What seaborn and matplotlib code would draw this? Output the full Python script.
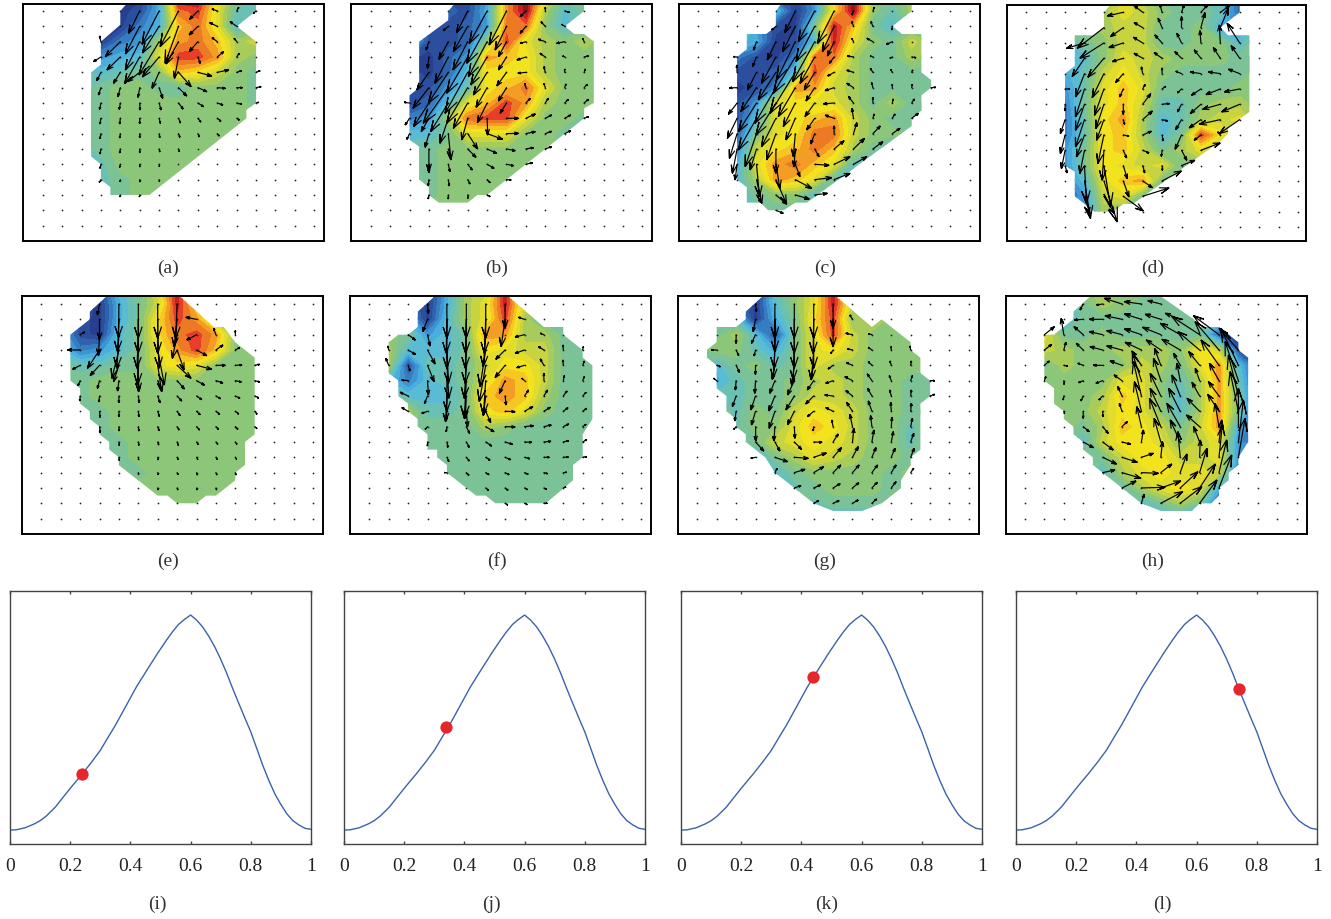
import numpy as np
import seaborn as sns
import matplotlib
matplotlib.use("Agg")
import matplotlib.pyplot as plt
from matplotlib.patches import Polygon

sns.set_theme(style="white")
plt.rcParams['font.family'] = ['Liberation Serif', 'DejaVu Sans']

# colour bands of the field, one for each integer from -9 to 10
band_colors = ["#263f8e", "#2b4f9f", "#2f63ae", "#367cc0", "#3f96d2", "#4aaedc", "#5bbdd4", "#6bc0b4",
               "#7cc296", "#8cc67a", "#a8cc5a", "#c6d440", "#e2dc2c", "#f3e31e", "#f6c622", "#f39f24",
               "#ee7a25", "#e8402a", "#c9201f", "#8e1a1e"]

# field values, rows -1 to 14 of the dot grid (short rows are green to the right)
a_field = [
    [0,0,0,0,-8,-9,-4,10,10,4,0,-1],
    [0,0,0,-8,-9,-8,-4,7,8,3,-2,-2],
    [0,0,0,-9,-9,-6,-4,5,7,3,-3,-1],
    [0,0,-6,-9,-6,-5,1,6,7,5,1,2],
    [0,0,-4,-5,-4,-3,3,8,8,6,1,0],
    [0,0,-2,-3,-2,-1,0,5,4,2,0,-1],
    [0,0,-2,-1,0,0,-1,-2,0,0,0,-1],
    [0,0,-2,-1,0,0,0,0,0,0,0,-1],
    [0,0,-2,-1],
    [0,0,-2,-1],
    [0,0,-2,-1],
    [0,0,-2,-2,0],
    [0,0,0,-2,-1],
    [0,0,0,-2,-1],
    [],
    [],
]
b_field = [
    [0,0,0,0,-8,-8,-5,6,10,4,-1,-1],
    [0,0,0,-8,-7,-8,-4,6,10,1,-3,-1],
    [0,0,0,-8,-8,-7,-5,7,7,0,-3,-1],
    [0,0,-3,-8,-8,-7,0,8,3,1,0,1],
    [0,0,-8,-9,-7,-5,6,5,4,1,0,0,0],
    [0,0,-8,-9,-7,-3,4,4,4,1,0,0],
    [0,0,-8,-8,-5,-2,4,5,7,3,0,0],
    [0,-6,-8,-7,-3,3,5,8,6,1,0,0],
    [0,-5,-6,-5,1,7,8,8,3,0,0,-1],
    [0,-4,-3,-3,-1,3,3,3,0,0,-1,-1],
    [0,0,-2,-1,0,0,0,0,0,0,-1],
    [0,0,-2,-1],
    [0,0,-2,-1],
    [0,0,0,-1],
    [],
    [],
]
c_field = [
    [0,0,0,0,-7,-8,-5,4,10,1,-1,1],
    [0,0,0,-3,-3,-9,-5,4,10,0,-2,1],
    [0,0,0,-5,-8,-9,-1,9,5,-1,-3,-1],
    [0,0,-3,-4,-9,-8,-3,9,3,0,-1,2],
    [0,0,-6,-8,-9,-6,7,7,1,-1,-1,1],
    [0,0,-8,-8,-7,-3,8,3,1,-1,-1,-1,-1],
    [0,0,-9,-8,-6,6,6,2,1,-1,-1,-1,-1],
    [0,0,-8,-5,3,4,3,3,1,-1,1,-1],
    [0,0,-8,-3,3,4,5,6,2,0,-1,-1],
    [0,0,-7,-1,3,4,7,7,2,0,0,-1],
    [0,0,-6,2,4,5,7,5,1,-1,-3],
    [0,0,-4,3,6,7,5,3,-2,-3],
    [0,0,-3,1,6,5,3,-2,-4],
    [0,0,-3,-1,0,0,-3],
    [0,0,0,-2,-1,-1],
    [],
]
d_field = [
    [0,0,0,0,-1,3,1,-1,-1,-1,-2,-7],
    [0,0,0,-1,1,3,2,0,-1,-1,-2,-7],
    [0,0,0,0,1,2,2,-1,-1,0,-4,-5],
    [0,0,-3,-1,0,2,2,-1,-1,0,0,-3],
    [0,0,-4,-3,0,3,2,1,0,0,0,-1],
    [0,0,-4,-2,2,4,2,0,-1,-1,-1,-1],
    [0,0,-5,-2,3,5,3,-1,-1,-1,-1,0],
    [0,0,-6,-1,3,5,2,-2,-2,0,1,1],
    [0,0,-6,-2,4,6,1,-3,-2,1,2,3],
    [0,0,-6,-2,4,5,1,-3,-1,8,4],
    [0,0,-5,-1,4,5,2,-1,1,3,-1],
    [0,0,-5,-1,4,3,2,3,-1],
    [0,0,-6,-3,3,5,6,-1],
    [0,0,-7,-5,2,3,-1],
    [0,0,0,-5,1,0],
    [],
]
e_field = [
    [0,0,0,-8,-3,-1,3,9,0],
    [0,0,-7,-9,-4,-1,2,9,4,0],
    [0,0,-8,-9,-4,-1,4,8,6,1],
    [0,-4,-8,-9,-3,-1,4,7,8,6],
    [0,-3,-6,-5,-3,-1,3,6,8,5],
    [0,-1,-2,-2,-1,-1,3,4,3,0],
    [0,-1,-1],
    [0,0,-1],
    [0,0,-1,-1],
    [0,0,0,-1],
    [0,0,0,-1,-1],
    [0,0,0,0,-1],
    [0,0,0,0,0,-1],
    [],
    [],
    [],
]
f_field = [
    [0,0,-8,-9,-4,1,2,9,1],
    [0,0,-6,-9,-4,1,3,9,2],
    [0,0,-4,-9,-3,1,3,8,1,-1,-1],
    [0,0,-1,-5,-3,-1,6,6,1,1,-1,-1],
    [0,1,-3,-3,-3,-1,4,3,2,2,-1,-1,-1],
    [0,1,-8,-2,-2,-1,2,4,4,2,-1,-1,-1],
    [0,-3,-6,-3,-2,-1,3,6,5,2,-1,-1,-1],
    [0,0,-3,-3,-3,-1,5,6,5,1,-1,-1,-1],
    [0,0,1,-2,-2,-1,4,5,3,0,-1,-1,-1],
    [0,0,0,-1,-1,-1,1,0,-1,-1,-1,-1,-1],
    [0,0,0,-1,-1,-1,-1,-1,-1,-1,-1,-1,-1],
    [0,0,0,0,-1,-1,-1,-1,-1,-1,-1,-1],
    [0,0,0,0,-1,-1,-1,-1,-1,-1,-1,-1],
    [0,0,0,0,0,-1,-1,-1,-1,-1,-1],
    [0,0,0,0,0,0,-1,-1,-1,-1,-1],
    [],
]
g_field = [
    [0,0,0,-9,-2,0,3,9,0],
    [0,0,-6,-9,-3,0,3,9,2],
    [0,0,-3,-9,-4,-1,4,8,0,2],
    [0,-1,1,-3,-8,-1,3,8,2,0,0],
    [-1,0,0,-2,-4,-1,3,4,2,0,0,0],
    [0,-3,-1,0,-2,-1,3,1,1,0,0,0],
    [0,-4,-2,-1,-1,0,1,2,1,0,0,-1,-1],
    [0,-2,-2,-1,-1,0,2,2,1,0,0,-1,-1],
    [0,0,-2,0,-1,2,4,3,2,0,0,-1],
    [0,0,-2,0,0,3,5,4,2,0,0,-2],
    [0,0,0,-1,2,3,4,3,2,0,0,-2],
    [0,0,0,-3,-1,1,3,2,1,0,0,-1],
    [0,0,0,0,-3,-1,0,0,0,0,-1],
    [0,0,0,0,0,-2,-1,0,0,0,-1],
    [0,0,0,0,0,0,-2,-1,-1,-1],
    [0,0,0,0,0,0,0,-3,-3,-3],
]
h_field = [
    [0,0,0,0,1,0,0,-1,-1],
    [0,0,-3,-1,1,0,-1,-1,-1],
    [0,0,-4,-1,-1,-1,-1,-1,-1,-2,-2],
    [0,3,-1,-1,0,-1,-1,-1,-1,-1,-7,-8],
    [0,2,1,0,0,1,1,1,0,4,2,-8,-8],
    [0,-1,1,0,0,0,2,1,-1,3,6,-3,-8],
    [0,0,0,0,0,3,3,0,-2,1,6,-2,-8],
    [0,0,0,0,1,5,3,0,-3,1,6,-1,-8],
    [0,0,0,0,2,4,3,0,-3,1,6,-1,-8],
    [0,0,0,-1,1,5,4,2,-1,2,6,-4,-8],
    [0,0,0,-3,2,4,4,3,0,2,3,-5,-8],
    [0,0,0,0,-1,2,4,4,2,2,3,-5],
    [0,0,0,0,-3,1,3,4,3,3,2,-6],
    [0,0,0,0,0,-2,1,3,4,3,-4],
    [0,0,0,0,0,0,-3,-1,1,-1,-7],
    [0,0,0,0,0,0,0,-3,-4,-5],
]

# outlines of the measured region in grid columns and rows
a_outline = [(4.7,-1),(4,0),(4,.9),(3,2),(3,3.5),(2.5,4),(2.5,9.5),(3,10),(3,11),(3.5,11.5),(3.5,12),(5.5,12),
             (10.5,7),(10.5,6.45),(11,6),(11,2),(10,1),(11,0),(11,-1)]
b_outline = [(4.7,-1),(4,0),(4,.6),(2.5,2),(2.5,5),(2,5.5),(2,8.4),(2.5,8.85),(2.5,11),(3,11.5),(3,12),(3.5,12.5),
             (5,12.5),(5.5,12),(6,12),(11,7),(11,6.35),(11.5,6),(11.5,2),(11,1.5),(10.5,1.5),(10,1),(11,0),(11,-1)]
c_outline = [(4.6,-1),(4,0),(4,1),(3.5,1.5),(2.5,1.5),(2.5,2.5),(2,3),(2,11),(2.5,11.5),(2.5,12.5),(3.2,12.5),
             (3.6,13),(4.4,13),(5,12.5),(5.6,12.5),(11,7.5),(11,7),(11.5,6.5),(11.5,5.5),(12,5),(12,4.5),(11.5,4),
             (11.5,1.5),(10.5,1.5),(10,1),(11,0),(11,-1)]
d_outline = [(4.7,-1),(4,0),(4,1),(3.5,1.5),(2.5,1.5),(2.5,3.5),(2,4),(2,10),(2.5,10.4),(2.5,12),(3,12.5),(3.5,13),
             (4.5,13),(5,12.5),(5.5,12.5),(10,8.4),(10.4,7.9),(10.4,7.5),(11.5,6.5),(11.5,1.5),(10.4,1.5),(10,1),
             (11,0),(11,-1)]
e_outline = [(3.8,-1),(2.5,.5),(2.5,1),(1.5,2),(1.5,5),(2,5.5),(2,6.5),(2.5,7),(2.5,7.5),(3,8),(3,8.5),(3.5,9),
             (3.5,9.5),(4,10),(4,10.5),(6,12.5),(6.5,12.5),(7,13),(8,13),(8.5,12.5),(9,12.5),(10,11.5),(10,11),
             (10.5,10.5),(10.5,9),(11,8.5),(11,3.5),(10,2.5),(9.4,1.5),(8.9,1.5),(6.7,-1)]
f_outline = [(3.8,-1),(2.5,.5),(2.5,1.5),(2,2),(1.5,2),(1,2.5),(1,4.5),(1.5,5),(1.5,6),(2,6.5),(2,7),(2.5,7.5),
             (2.5,8),(3,8.5),(3,9.5),(3.5,9.5),(3.5,10),(4,10.5),(4,11),(5.5,12.5),(6,12.5),(6.5,13),(9.1,13),
             (10.5,11.5),(10.5,10.5),(11,10),(11,8.5),(11.5,7.5),(11.5,4),(11,3.5),(11,3),(10,2),(10,1.5),(9,1.5),(6.7,-1)]
g_outline = [(3.8,-1),(2.5,.5),(2.5,1),(2,1.5),(1,1.5),(1,2.5),(.5,3),(.5,3.5),(1,4),(1,5.5),(1.5,6),(1.5,7),(2,7.5),
             (2,8),(2.5,8.5),(2.5,9),(3.5,10),(4,11),(6,13),(7,13.5),(8.5,13.5),(9.5,13),(10.5,12),(10.5,11.5),(11,10.5),
             (11,10),(11.5,9.5),(11.5,6.5),(12,6),(12,5),(11.5,4.5),(11.5,3.5),(11,3),(11,2.5),(9.5,1),(9,1.5),(6.7,-1)]
h_outline = [(3.8,-1),(2.5,.5),(2.5,1),(2,1.5),(1.5,2),(1,2),(1,5),(1.5,5.5),(1.5,6.5),(2,7),(2,7.5),(2.5,8),(2.5,8.5),
             (3,9),(3,9.5),(3.5,10),(3.5,10.5),(6,13),(7,13.5),(8.6,13.5),(9,13),(9.6,13),(10,12.5),(10,12),(10.5,11.5),
             (10.5,11),(11,10.5),(11,10),(11.5,9),(11.5,3.5),(11,3),(11,2.5),(10,1.5),(9,1.5),(8.7,1),(7,-.5),(6.7,-1)]

# arrow components per grid node, rows 0 to 13 (x to the right, y downwards)
a_u = [
    [0,0,0,0,0,-33,-51,-55,-25,-16,6,-8],
    [0,0,0,0,0,-43,-50,-40,-26,-23,-20],
    [0,0,0,-4,-45,-43,-60,-37,-26,-16,-8],
    [0,0,0,-22,-40,-45,-50,-12,7,19,8],
    [0,0,0,-12,-20,-36,-21,38,42,34,15,12],
    [0,0,0,-7,-7,-5,11,25,27,24,17,15],
    [0,0,0,-4,-3,1,6,14,17,17,15,8],
    [0,0,0,-3,-2,0,4,6,9,11,8],
    [0,0,0,-3,-2,0,2,4,4,6],
    [0,0,0,-3,-2,0,2,3],
    [0,0,0,-3,-2,0,1],
    [0,0,0,-5,-1,0,1],
    [0,0,0,0,-2,-1],
    [],
]
a_v = [
    [0,0,0,0,0,67,100,107,25,-6,-11,7],
    [0,0,0,0,0,83,80,111,26,-11,-14],
    [0,0,0,-17,45,85,100,67,30,-12,-10],
    [0,0,0,14,39,80,60,64,19,-16,-11],
    [0,0,0,25,33,28,48,43,11,-7,-5,-5],
    [0,0,0,22,27,29,32,25,12,2,0,-3],
    [0,0,0,19,19,21,21,18,11,6,4,-2],
    [0,0,0,17,17,16,15,14,11,9,5],
    [0,0,0,15,13,12,12,11,10,7],
    [0,0,0,15,12,11,9,8],
    [0,0,0,12,9,8,7],
    [0,0,0,8,6,7,5],
    [0,0,0,0,6,6],
    [],
]
b_u = [
    [0,0,0,0,0,-33,-53,-52,-17,0,14],
    [0,0,0,0,-15,-43,-61,-34,-17,-13,-9],
    [0,0,0,-8,-28,-44,-56,-24,-17,-21,-24,-4],
    [0,0,0,-4,-40,-63,-49,-24,-27,-16,-6,13],
    [0,0,0,-36,-60,-68,-41,-29,-24,-4,0,4],
    [0,0,0,-48,-75,-63,-33,-24,-4,-4,4,10],
    [0,0,-16,-46,-53,-43,-29,-19,13,9,11,13],
    [0,0,-13,-23,-25,-18,2,36,28,19,18,13],
    [0,0,-8,-11,8,30,47,36,28,19,18],
    [0,0,0,0,7,25,29,26,23,19],
    [0,0,0,0,5,14,21,21,20],
    [0,0,0,-2,3,7,9,14],
    [0,0,0,-2,0,1,9],
    [],
]
b_v = [
    [0,0,0,0,0,65,97,102,17,-11,4],
    [0,0,0,0,13,76,111,71,21,-14,-6],
    [0,0,0,25,53,85,105,45,5,-7,5,-10],
    [0,0,0,34,79,109,84,39,9,-11,-3,-3],
    [0,0,0,53,93,123,68,41,3,-17,-10,-10],
    [0,0,0,62,107,107,59,40,-13,-13,-11,-10],
    [0,0,-2,71,86,76,59,31,-14,-14,-11,-11],
    [0,0,20,40,75,65,50,0,-13,-10,-10,-5],
    [0,0,17,41,79,46,17,-1,-6,-7,-9],
    [0,0,0,68,23,25,13,5,-4,-7],
    [0,0,0,25,22,17,12,4,-5],
    [0,0,0,18,19,13,9,1],
    [0,0,0,12,12,10,5],
    [],
]
c_u = [
    [0,0,0,0,0,-31,-49,-49,-5,4],
    [0,0,0,0,-13,-38,-56,-35,-5,-6,-2],
    [0,0,0,-9,-26,-56,-66,-20,-5,-18,-17],
    [0,0,-11,-12,-43,-66,-44,-14,-18,-8,-7,13],
    [0,0,-1,-27,-53,-76,-31,-19,-20,-8,-5,3],
    [0,0,-23,-47,-63,-51,-26,-27,-20,-4,0,2,14],
    [0,0,-26,-54,-60,-36,-29,-32,-15,0,3,8],
    [0,0,-29,-54,-43,-28,-24,-27,-5,4,8,20],
    [0,0,-23,-34,-28,-6,-12,0,10,22,23],
    [0,0,-14,-19,0,-4,13,30,33,30],
    [0,0,-6,9,12,14,43,48,40],
    [0,0,0,16,32,49,51,48],
    [0,0,0,13,32,42,38],
    [0,0,0,0,22],
]
c_v = [
    [0,0,0,0,0,65,92,97,12,-11],
    [0,0,0,0,11,76,106,76,-14,-14,11],
    [0,0,0,25,55,115,120,43,-10,-10,8],
    [0,0,-1,29,79,109,79,19,-3,-3,4,2],
    [0,0,-22,53,83,123,53,11,-6,-12,-9,-7],
    [0,0,1,72,107,87,40,9,-13,-15,-10,-10,-1],
    [0,0,34,86,96,71,41,3,-19,-17,-12,-12],
    [0,0,60,95,85,65,35,-9,-30,-13,-13,-15],
    [0,0,74,99,79,69,31,-23,-33,-23,-16],
    [0,0,73,63,73,53,23,-25,-32,-22],
    [0,0,47,97,72,37,3,-23,-23],
    [0,0,0,71,73,26,-6,-19],
    [0,0,0,22,27,12,-5],
    [0,0,0,0,9],
]
d_u = [
    [0,0,0,0,0,-48,-26,-7,8,20,27],
    [0,0,0,0,-80,-38,-26,-12,0,12,24],
    [0,0,0,-54,-72,-43,-28,-22,-14,-3,-3,-38],
    [0,0,0,-37,-48,-33,-26,-24,-20,-20,-21,-26],
    [0,0,0,-27,-35,-23,-4,0,-17,-32,-36,-34],
    [0,0,14,-27,-28,-11,7,11,-12,-28,-43,-46],
    [0,0,0,-27,-24,0,24,22,-12,-32,-53,-54],
    [0,0,-14,-27,-22,4,29,16,-17,-35,-63,-61],
    [0,0,-14,-24,-18,17,26,3,-19,-20,-8],
    [0,0,-11,-14,-5,10,19,-2,16,58],
    [0,0,6,6,20,12,6,1,40],
    [0,0,0,18,40,17,29,58],
    [0,0,0,16,32,60,79],
    [],
]
d_v = [
    [0,0,0,0,0,11,-20,-25,-22,-22,-19],
    [0,0,0,0,62,27,-15,-28,-33,-45,-58],
    [0,0,0,16,46,14,-17,-24,-29,-37,-54,-59],
    [0,0,0,55,57,10,-15,-17,-20,-25,-32,-38],
    [0,0,0,70,72,27,-20,-17,-7,-5,-5,-13],
    [0,0,0,84,79,24,-13,-8,12,19,17,9],
    [0,0,20,78,73,30,-32,-2,23,28,15,23],
    [0,0,42,82,62,14,-26,4,30,25,14,42],
    [0,0,56,66,86,4,-11,18,43,16,-9],
    [0,0,55,70,90,23,8,18,30,-22],
    [0,0,22,114,124,39,22,14,-16],
    [0,0,0,113,123,48,20,-30],
    [0,0,0,52,52,44,-25],
    [],
]
e_u = [
    [0,0,0,-6,-1,0,0,-4],
    [0,0,0,0,-4,0,0,-9,-32],
    [0,0,14,-3,-6,-4,4,-14,-29,-7,0],
    [0,0,-38,-36,-21,-2,20,21,31,21,13],
    [0,0,-22,-28,-16,1,12,42,46,28,20,15],
    [0,0,-6,-6,-4,3,14,22,24,21,18,15],
    [0,0,-1,-2,0,3,7,14,16,14,14,12],
    [0,0,0,2,0,2,5,9,11,11,10,7],
    [0,0,0,2,1,2,4,6,9,8,8,7],
    [0,0,0,0,1,2,3,4,5,6,5],
    [0,0,0,0,1,1,2,3,4,4,4],
    [0,0,0,0,0,1,2,3,3,3,3],
    [0,0,0,0,0,0,1,2,2,2],
    [],
]
e_v = [
    [0,0,0,33,100,103,103,103],
    [0,0,0,60,97,102,102,82,-6],
    [0,0,-8,63,101,101,101,71,16,-19,-12],
    [0,0,0,55,85,105,105,60,17,-15,-7],
    [0,0,12,31,49,79,79,39,12,0,-1,-3],
    [0,0,15,23,31,31,31,25,13,7,4,4],
    [0,0,15,18,20,20,20,15,11,8,7,6],
    [0,0,0,18,16,16,15,13,10,9,8,9],
    [0,0,0,18,13,13,12,10,10,8,8,6],
    [0,0,0,0,10,10,9,10,8,7,7],
    [0,0,0,0,9,8,8,7,7,7,6],
    [0,0,0,0,0,6,6,6,7,7,7],
    [0,0,0,0,0,0,6,6,6,6],
    [],
]
f_u = [
    [0,0,0,3,0,0,0,0],
    [0,0,0,-14,-2,-2,-4,-12,-18],
    [0,0,22,8,0,-3,-7,0,-28,-11],
    [0,-3,22,23,5,-3,-17,-28,-28,-16,-1,2],
    [0,-9,6,20,6,-6,-19,-30,-23,-11,-1,5],
    [0,0,-19,3,0,-6,-7,-17,-8,0,3,5],
    [0,0,-24,-9,-4,-3,-7,3,12,11,11,10],
    [0,0,-19,-17,-2,4,15,30,25,19,14,12],
    [0,0,0,-7,-2,10,25,30,27,22,16,10],
    [0,0,0,0,3,9,18,22,22,21,16,12],
    [0,0,0,0,6,9,13,17,16,16,15,12],
    [0,0,0,0,-8,8,10,12,11,11,10],
    [0,0,0,0,0,0,8,9,9,8,8],
    [0,0,0,0,0,0,0,8,8,10],
]
f_v = [
    [0,0,0,28,103,103,103,73],
    [0,0,0,37,102,102,102,82,-6],
    [0,0,16,34,101,101,96,0,7,-4],
    [0,-12,13,42,100,100,110,28,10,-10,-15,-10],
    [0,-21,17,49,99,99,109,37,7,-19,-16,-13],
    [0,0,-2,43,93,113,103,38,-7,-22,-15,-12],
    [0,0,-11,23,77,67,59,27,-18,-18,-15,-11],
    [0,0,-11,6,29,46,34,1,-14,-12,-11,-9],
    [0,0,0,8,15,20,15,1,-3,-5,-8,-7],
    [0,0,0,12,16,16,12,7,1,-2,-4,-7],
    [0,0,0,0,13,11,9,7,4,0,-1,-2],
    [0,0,0,0,0,8,6,6,5,3,-1],
    [0,0,0,0,0,0,7,7,5,4,-3],
    [0,0,0,0,0,0,0,5,4,0],
]
g_u = [
    [0,0,0,3,0,0,0,0],
    [0,0,0,-7,0,0,-2,0,-8],
    [0,0,0,-12,-2,0,0,0,-20,-11],
    [0,-16,8,-4,-5,-3,-7,-7,-16,-11,-1,-2],
    [0,11,10,0,-8,-8,-9,-15,-18,-11,-4,2],
    [0,-9,-2,-2,-15,-20,-19,-22,-23,-14,-6,5,14],
    [0,0,-11,-14,-18,-25,-24,-25,-20,-13,-5,2,14],
    [0,0,-4,-12,-17,-20,-19,-22,-18,-11,-2,2],
    [0,0,-7,1,-3,2,-2,-4,-8,-4,2,5],
    [0,0,0,25,15,22,25,15,4,6,6,9],
    [0,0,0,-14,38,42,38,25,17,12,11,10],
    [0,0,0,0,7,32,30,23,20,17,14,9],
    [0,0,0,0,0,20,21,21,19,16,14],
    [0,0,0,0,0,0,15,18,17,14],
]
g_v = [
    [0,0,0,23,103,103,103,73],
    [0,0,0,37,97,102,102,82,-13],
    [0,0,26,26,101,101,101,0,-4,-3],
    [0,0,17,18,85,90,90,10,-4,-8,-10,-12],
    [0,4,21,27,42,59,42,11,-8,-11,-13,-13],
    [0,-7,28,38,38,43,28,8,-12,-20,-15,-15,0],
    [0,0,32,42,45,42,24,-3,-16,-23,-18,-18,-5],
    [0,0,29,41,51,40,16,-11,-27,-31,-27,-24],
    [0,0,8,43,43,35,12,-20,-37,-33,-28,-25],
    [0,0,0,27,27,22,1,-24,-41,-36,-31,-26],
    [0,0,0,3,13,3,-13,-29,-32,-29,-27,-27],
    [0,0,0,0,-13,-10,-18,-23,-23,-23,-23,-13],
    [0,0,0,0,0,-7,-9,-13,-16,-17,-19],
    [0,0,0,0,0,0,-8,-8,-10,-13],
]
h_u = [
    [0,0,0,-9,-18,-53,-51,-39],
    [0,0,0,-26,-40,-51,-51,-47,-45],
    [0,30,-8,-28,-40,-46,-51,-55,-60,-83,-77],
    [0,22,6,-21,-38,-46,-49,-44,-55,-65,-72,-58],
    [0,15,12,-16,-28,-36,-29,-19,-20,-33,-54,-53],
    [0,4,1,-14,-20,-24,-27,-22,-10,-13,-29,-40],
    [0,0,-2,-7,-11,-13,-24,-32,-25,-23,-32,-30],
    [0,0,2,0,1,-8,-21,-32,-35,-38,-34,-25],
    [0,0,0,18,17,16,-14,-34,-40,-40,-12,0],
    [0,0,0,31,32,26,6,-20,-30,-18,8,15],
    [0,0,0,0,42,46,36,5,-7,2,10,20],
    [0,0,0,0,37,57,51,33,20,22,23],
    [0,0,0,0,0,42,71,60,53,47,38],
    [0,0,0,0,0,0,8,66,65,52],
]
h_v = [
    [0,0,0,18,3,-17,-7,-10],
    [0,0,0,2,0,-11,-16,-15,-18],
    [0,-24,-49,-24,-9,-12,-17,-22,-34,-54,-57],
    [0,-17,-23,-20,-10,-12,-23,-30,-32,-55,-85,-65],
    [0,-13,3,-6,0,-13,-43,-51,-36,-41,-76,-111],
    [0,-12,11,6,8,-17,-82,-67,-52,-37,-52,-117],
    [0,0,12,15,12,-28,-103,-68,-63,-41,-43,-123],
    [0,0,6,21,16,-24,-89,-69,-69,-39,-51,-119],
    [0,0,0,15,20,-15,-60,-85,-70,-35,-70,-115],
    [0,0,0,17,24,7,-36,-71,-66,-46,-66,-126],
    [0,0,0,0,20,15,-12,-47,-77,-52,-97,-117],
    [0,0,0,0,-8,17,2,-26,-56,-73,-98],
    [0,0,0,0,0,-21,-2,-21,-49,-72,-99],
    [0,0,0,0,0,0,-27,-35,-50,-70],
]

# curve shown in the four lower panels
curve_x = [0, 0.02, 0.05, 0.08, 0.1, 0.12, 0.15, 0.18, 0.2, 0.24, 0.27, 0.3, 0.33, 0.35, 0.38, 0.42, 0.46, 0.49, 0.52, 0.54, 0.56, 0.58, 0.6,
           0.62, 0.64, 0.66, 0.68, 0.7, 0.72, 0.74, 0.76, 0.78, 0.8, 0.82, 0.84, 0.86, 0.88, 0.9, 0.92, 0.94, 0.96, 0.98, 1.0]
curve_y = [0.055, 0.056, 0.064, 0.079, 0.092, 0.11, 0.145, 0.19, 0.22, 0.277, 0.322, 0.37, 0.43, 0.469, 0.534, 0.621, 0.697, 0.753, 0.806, 0.839, 0.868, 0.888, 0.905,
           0.885, 0.858, 0.822, 0.78, 0.73, 0.675, 0.614, 0.556, 0.499, 0.443, 0.377, 0.31, 0.251, 0.198, 0.156, 0.119, 0.092, 0.075, 0.062, 0.058]
marker_x = [0.24, 0.34, 0.44, 0.74]
marker_y = [0.277, 0.462, 0.66, 0.613]
tick_values = [0, 0.2, 0.4, 0.6, 0.8, 1]
tick_labels = ['0', '0.2', '0.4', '0.6', '0.8', '1']

W, H = 1331, 919
STEP_X, STEP_Y = 19.4, 15.33     # pixels between dots
ZOOM_X, ZOOM_Y = 58.2, 46.0      # arrow units per grid step

field_cmap = sns.blend_palette(band_colors, as_cmap=True)
field_levels = np.arange(-9.5, 11, 1)
grid_x = np.arange(15)
grid_y = np.arange(-1, 15)


def padded(rows, n_rows):
    arr = np.zeros((n_rows, 15))
    for i, row in enumerate(rows):
        arr[i, :len(row)] = row
    return arr


def add_axes_px(left, right, top, bottom):
    return fig.add_axes([left / W, 1 - bottom / H, (right - left) / W, (bottom - top) / H])


def draw_field(box, origin, field, outline, u, v, label, label_x):
    left, right, top, bottom = box
    ax = add_axes_px(left, right, top, bottom)
    ox, oy = origin

    cs = ax.contourf(grid_x, grid_y, padded(field, 16), levels=field_levels, cmap=field_cmap, vmin=-9, vmax=10)
    clip = Polygon(outline, closed=True, transform=ax.transData, facecolor='none', edgecolor='none')
    ax.add_patch(clip)
    cs.set_clip_path(clip)

    # small dots on all the nodes
    nx, ny = np.meshgrid(grid_x, np.arange(15))
    sns.scatterplot(x=nx.ravel(), y=ny.ravel(), color='#222222', s=1.6, linewidth=0, legend=False, ax=ax, zorder=3)

    # matlab style arrows, a shaft and two barbs
    uu, vv = padded(u, 14), padded(v, 14)
    xs, ys = [], []
    for j in range(14):
        for i in range(15):
            du, dv = uu[j, i], vv[j, i]
            if du == 0 and dv == 0:
                continue
            b1x = du - 0.33 * (du + 0.33 * dv)
            b1y = dv - 0.33 * (dv - 0.33 * du)
            b2x = du - 0.33 * (du - 0.33 * dv)
            b2y = dv - 0.33 * (dv + 0.33 * du)
            for px, py in [(0, 0), (du, dv), (b1x, b1y), (du, dv), (b2x, b2y)]:
                xs.append(i + px / ZOOM_X)
                ys.append(j + py / ZOOM_Y)
            xs.append(np.nan)
            ys.append(np.nan)
    ax.plot(xs, ys, color='black', lw=0.85, zorder=4, solid_joinstyle='miter')

    ax.set_xlim((left - ox) / STEP_X, (right - ox) / STEP_X)
    ax.set_ylim((bottom - oy) / STEP_Y, (top - oy) / STEP_Y)
    ax.set(xticks=[], yticks=[], xlabel='', ylabel='')
    for s in ax.spines.values():
        s.set_visible(True)
        s.set_color('black')
        s.set_linewidth(1.4)
        s.set_zorder(5)
    fig.text(label_x / W, 1 - (bottom + 27.5) / H, label, ha='center', va='center', fontsize=14, color='#333333')


def draw_curve(box, mx, my, label, label_x):
    left, right, top, bottom = box
    ax = add_axes_px(left, right, top, bottom)
    sns.lineplot(x=curve_x, y=curve_y, color='#3b62ad', lw=1.0, errorbar=None, ax=ax)
    sns.scatterplot(x=[mx], y=[my], color='#e5262b', s=78, linewidth=0, legend=False, ax=ax, zorder=4)
    ax.set_xlim(0, 1)
    ax.set_ylim(0, 1)
    ax.set_yticks([])
    ax.set_xticks(tick_values, tick_labels)
    ax.tick_params(axis='x', direction='in', top=True, bottom=True, length=2.5, width=1, color='#444444', pad=10, labelsize=14, labelcolor='#222222')
    for s in ax.spines.values():
        s.set_visible(True)
        s.set_color('#444444')
        s.set_linewidth(1.0)
    fig.text(label_x / W, 1 - 904.5 / H, label, ha='center', va='center', fontsize=14, color='#333333')


fig = plt.figure(figsize=(W / 100, H / 100), dpi=100)

draw_field((23.3, 324.3, 4, 240.5), (42.7, 11), a_field, a_outline, a_u, a_v, '(a)', 168)
draw_field((351, 652, 4, 240.5), (370.7, 11), b_field, b_outline, b_u, b_v, '(b)', 497)
draw_field((679, 980, 4, 240.5), (698.3, 11), c_field, c_outline, c_u, c_v, '(c)', 825)
draw_field((1007, 1306, 5, 240.5), (1026.3, 12.3), d_field, d_outline, d_u, d_v, '(d)', 1153)
draw_field((22, 323, 296, 533.5), (41.3, 304), e_field, e_outline, e_u, e_v, '(e)', 168)
draw_field((350, 651, 296, 533.5), (369.3, 304), f_field, f_outline, f_u, f_v, '(f)', 497)
draw_field((678, 979, 296, 533.5), (697.3, 304), g_field, g_outline, g_u, g_v, '(g)', 825)
draw_field((1006, 1307, 296, 533.5), (1025, 304), h_field, h_outline, h_u, h_v, '(h)', 1153)

draw_curve((10, 311, 591, 844), marker_x[0], marker_y[0], '(i)', 157)
draw_curve((344, 645, 591, 844), marker_x[1], marker_y[1], '(j)', 491)
draw_curve((681, 982, 591, 844), marker_x[2], marker_y[2], '(k)', 827)
draw_curve((1016, 1317, 591, 844), marker_x[3], marker_y[3], '(l)', 1162)

fig.savefig('out.png', dpi=100)
